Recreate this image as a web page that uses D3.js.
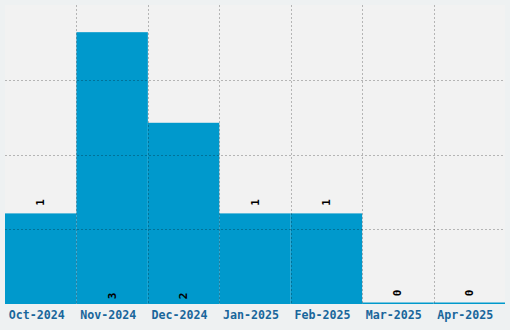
<!DOCTYPE html>
<html>
<head>
<meta charset="utf-8">
<script src="https://cdn.jsdelivr.net/npm/d3@7"></script>
<style>
  body { margin: 0; background: #eef1f2; }
  svg { display: block; }
  .tick-label { font-family: "DejaVu Sans Mono", monospace; font-weight: bold; font-size: 13px; fill: #19669b; }
  .bar-label { font-family: "DejaVu Sans Mono", monospace; font-weight: bold; font-size: 11px; fill: #000; }
</style>
</head>
<body>
<div id="chart-container"></div>
<script>
const months = ['Oct-2024', 'Nov-2024', 'Dec-2024', 'Jan-2025', 'Feb-2025', 'Mar-2025', 'Apr-2025'];
const counts = [1, 3, 2, 1, 1, 0, 0];
const yMax = 3.3;

class Histogram {
  constructor(selector) {
    this.width = 510;
    this.height = 330;
    this.plot = { left: 5, top: 5, right: 505, bottom: 304 };
    this.svg = d3.select(selector).append('svg').attr('width', this.width).attr('height', this.height);

    this.x = d3.scaleBand().domain(months).range([this.plot.left, this.plot.right]).padding(0);
    this.y = d3.scaleLinear().domain([0, yMax]).range([this.plot.bottom, this.plot.top]);

    this.drawBackground();
    this.drawBars();
    this.drawGrid();
    this.drawLabels();
  }

  drawBackground() {
    this.svg.append('rect').
    attr('x', this.plot.left).attr('y', this.plot.top).
    attr('width', this.plot.right - this.plot.left).
    attr('height', this.plot.bottom - this.plot.top).
    attr('fill', '#f2f2f2');
  }

  drawGrid() {
    let g = this.svg.append('g');
    // vertical lines between bands
    g.selectAll('line.v').data(months.slice(1)).enter().append('line').
    attr('x1', d => Math.round(this.x(d)) + 0.5).attr('x2', d => Math.round(this.x(d)) + 0.5).
    attr('y1', this.plot.top).attr('y2', this.plot.bottom).
    attr('stroke', 'rgba(0,0,0,0.25)').attr('stroke-dasharray', '2,2');

    let levels = [1, 2, 3].map(k => yMax * k / 4);
    g.selectAll('line.h').data(levels).enter().append('line').
    attr('x1', this.plot.left).attr('x2', this.plot.right).
    attr('y1', d => Math.round(this.y(d)) + 0.5).attr('y2', d => Math.round(this.y(d)) + 0.5).
    attr('stroke', 'rgba(0,0,0,0.25)').attr('stroke-dasharray', '2,2');
  }

  drawBars() {
    this.svg.selectAll('rect.bar').data(counts).enter().append('rect').
    attr('class', 'bar').
    attr('x', (d, i) => this.x(months[i])).
    attr('width', this.x.bandwidth()).
    attr('y', d => Math.min(this.y(d), this.plot.bottom - 1.5)).
    attr('height', d => Math.max(this.plot.bottom - this.y(d), 1.5)).
    attr('fill', '#0099cc');
  }

  drawLabels() {
    let chart = this;
    this.svg.selectAll('text.bar-label').data(counts).enter().append('text').
    attr('class', 'bar-label').
    attr('text-anchor', 'middle').
    attr('dominant-baseline', 'central').
    attr('transform', (d, i) => {
      let cx = chart.x(months[i]) + chart.x.bandwidth() / 2;
      let cy = d >= 2 ? chart.plot.bottom - 8 : chart.y(d) - 11;
      return `translate(${cx}, ${cy}) rotate(-90)`;
    }).
    text(d => d);

    this.svg.selectAll('text.tick-label').data(months).enter().append('text').
    attr('class', 'tick-label').
    attr('text-anchor', 'middle').
    attr('x', d => this.x(d) + this.x.bandwidth() / 2 - 4).
    attr('y', 319).
    attr('textLength', 56).
    attr('lengthAdjust', 'spacingAndGlyphs').
    text(d => d);
  }
}

new Histogram('#chart-container');
</script>
</body>
</html>
